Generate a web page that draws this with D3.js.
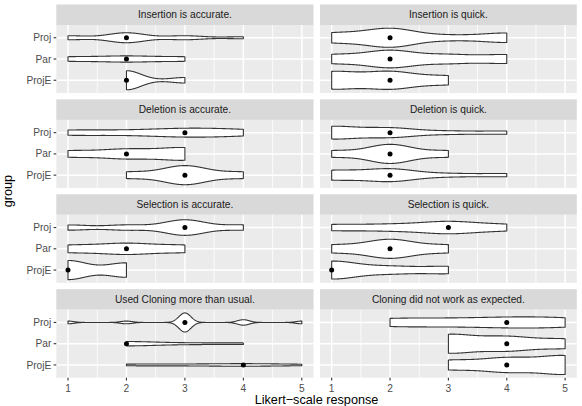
<!DOCTYPE html>
<html><head><meta charset="utf-8">
<script src="https://cdn.jsdelivr.net/npm/d3@7"></script>
<style>body{margin:0;background:#fff}svg{display:block}</style>
</head><body>
<svg id="chart" width="582" height="406"></svg>
<script>
// ---- data ----
const groups = ["Proj", "Par", "ProjE"];
const likertLevels = [1, 2, 3, 4, 5];
const xTickLabels = ["1", "2", "3", "4", "5"];
const panelTitles = [
  "Insertion is accurate.", "Insertion is quick.",
  "Deletion is accurate.", "Deletion is quick.",
  "Selection is accurate.", "Selection is quick.",
  "Used Cloning more than usual.", "Cloning did not work as expected."
];
// number of responses at Likert levels 1..5, for Proj, Par, ProjE
const insertionAccurate = [[2,5,2,1,0],[3,4,3,0,0],[0,7,2,0,0]];
const insertionQuick    = [[2,4,1,2,0],[2,4,2,2,0],[4,4,2,0,0]];
const deletionAccurate  = [[2,1,3,2,0],[2,3,4,0,0],[0,2,6,2,0]];
const deletionQuick     = [[4,3,1,1,0],[2,6,2,0,0],[3,4,1,1,0]];
const selectionAccurate = [[1,1,3,1,0],[2,3,2,0,0],[4,3,0,0,0]];
const selectionQuick    = [[1,1,2,1,0],[2,5,2,0,0],[5,2,2,0,0]];
const usedCloningMore   = [[1,1,7,2,1],[0,3,1,1,0],[0,2,1,3,1]];
const cloningFailed     = [[0,2,1,2,2],[0,0,4,3,2],[0,0,2,3,4]];
const panelCounts = [insertionAccurate, insertionQuick, deletionAccurate, deletionQuick,
                     selectionAccurate, selectionQuick, usedCloningMore, cloningFailed];

// ---- layout ----
const cols = [[56.3, 313.5], [320, 576.8]];
const top0 = 4.5, stripH = 20.5, panelH = 68, rowStep = 94.9;
const svg = d3.select("#chart");
const font = "'Liberation Sans', Arial, Helvetica, sans-serif";

function expand(counts) {
  const v = [];
  counts.forEach((c, i) => { for (let k = 0; k < c; k++) v.push(likertLevels[i]); });
  return v;
}
// R's bw.nrd0
function bwNrd0(x) {
  const hi = d3.deviation(x);
  const iqr = d3.quantile(x, 0.75) - d3.quantile(x, 0.25);
  let lo = Math.min(hi, iqr / 1.34);
  if (!lo) lo = hi || Math.abs(x[0]) || 1;
  return 0.9 * lo * Math.pow(x.length, -0.2);
}
// gaussian kernel density, trimmed to data range (like geom_violin)
function kde(values) {
  const bw = bwNrd0(values);
  const [lo, hi] = d3.extent(values);
  const n = values.length, c = 1 / (n * bw * Math.sqrt(2 * Math.PI));
  return d3.range(512).map(i => {
    const t = lo + (hi - lo) * i / 511;
    let s = 0;
    for (const v of values) { const z = (t - v) / bw; s += Math.exp(-0.5 * z * z); }
    return { t, d: s * c };
  });
}

panelTitles.forEach((title, p) => {
  const col = p % 2, row = Math.floor(p / 2);
  const [xl, xr] = cols[col];
  const sTop = top0 + row * rowStep;
  const pTop = sTop + stripH, pBot = pTop + panelH;
  const x = d3.scaleLinear().domain([0.8, 5.2]).range([xl, xr]);
  const y = d3.scalePoint().domain(groups).range([pTop, pBot]).padding(0.6);
  const g = svg.append("g");

  // strip
  g.append("rect").attr("x", xl).attr("y", sTop).attr("width", xr - xl).attr("height", stripH).attr("fill", "#D9D9D9");
  g.append("text").attr("x", (xl + xr) / 2).attr("y", sTop + stripH / 2).attr("dy", "0.35em")
    .attr("text-anchor", "middle").attr("font-family", font).attr("font-size", "10.2px").attr("fill", "#1A1A1A").text(title);

  // panel background + grid
  g.append("rect").attr("x", xl).attr("y", pTop).attr("width", xr - xl).attr("height", panelH).attr("fill", "#EBEBEB");
  g.selectAll(".minor").data(d3.range(1.5, 5, 1)).join("line")
    .attr("x1", d => x(d)).attr("x2", d => x(d)).attr("y1", pTop).attr("y2", pBot)
    .attr("stroke", "#fff").attr("stroke-width", 0.8);
  g.selectAll(".majx").data(likertLevels).join("line")
    .attr("x1", d => x(d)).attr("x2", d => x(d)).attr("y1", pTop).attr("y2", pBot)
    .attr("stroke", "#fff").attr("stroke-width", 1.5);
  g.selectAll(".majy").data(groups).join("line")
    .attr("x1", xl).attr("x2", xr).attr("y1", d => y(d)).attr("y2", d => y(d))
    .attr("stroke", "#fff").attr("stroke-width", 1.5);

  // violins (area-scaled within panel)
  const dens = groups.map((grp, gi) => ({ grp, vals: expand(panelCounts[p][gi]) }));
  dens.forEach(d => d.pts = kde(d.vals));
  const maxD = d3.max(dens, d => d3.max(d.pts, q => q.d));
  const half = 0.45 * y.step();
  dens.forEach(d => {
    const yc = y(d.grp);
    const area = d3.area().x(q => x(q.t))
      .y0(q => yc - q.d / maxD * half).y1(q => yc + q.d / maxD * half);
    g.append("path").attr("d", area(d.pts)).attr("fill", "#fff")
      .attr("stroke", "#333333").attr("stroke-width", 1.1).attr("stroke-linejoin", "round");
  });
  // medians
  g.selectAll(".med").data(dens).join("circle")
    .attr("cx", d => x(d3.median(d.vals))).attr("cy", d => y(d.grp)).attr("r", 2.5).attr("fill", "#000");

  // y axis (left column)
  if (col === 0) {
    g.selectAll(".yt").data(groups).join("line")
      .attr("x1", xl - 2.7).attr("x2", xl).attr("y1", d => y(d)).attr("y2", d => y(d))
      .attr("stroke", "#333333").attr("stroke-width", 1.1);
    g.selectAll(".yl").data(groups).join("text")
      .attr("x", xl - 5).attr("y", d => y(d)).attr("dy", "0.35em").attr("text-anchor", "end")
      .attr("font-family", font).attr("font-size", "10.2px").attr("fill", "#4D4D4D").text(d => d);
  }
  // x axis (bottom row)
  if (row === 3) {
    g.selectAll(".xt").data(likertLevels).join("line")
      .attr("x1", d => x(d)).attr("x2", d => x(d)).attr("y1", pBot).attr("y2", pBot + 2.9)
      .attr("stroke", "#333333").attr("stroke-width", 1.1);
    g.selectAll(".xl").data(likertLevels).join("text")
      .attr("x", d => x(d)).attr("y", pBot + 14.3).attr("text-anchor", "middle")
      .attr("font-family", font).attr("font-size", "10.2px").attr("fill", "#4D4D4D").text((d, i) => xTickLabels[i]);
  }
});

// axis titles
svg.append("text").attr("x", (cols[0][0] + cols[1][1]) / 2).attr("y", 403.5).attr("text-anchor", "middle")
  .attr("font-family", font).attr("font-size", "12.7px").attr("fill", "#000").text("Likert\u2212scale response");
const midY = (top0 + top0 + 3 * rowStep + stripH + panelH) / 2;
svg.append("text").attr("transform", `translate(12,${midY}) rotate(-90)`).attr("text-anchor", "middle")
  .attr("font-family", font).attr("font-size", "12.7px").attr("fill", "#000").text("group");
</script>
</body></html>
